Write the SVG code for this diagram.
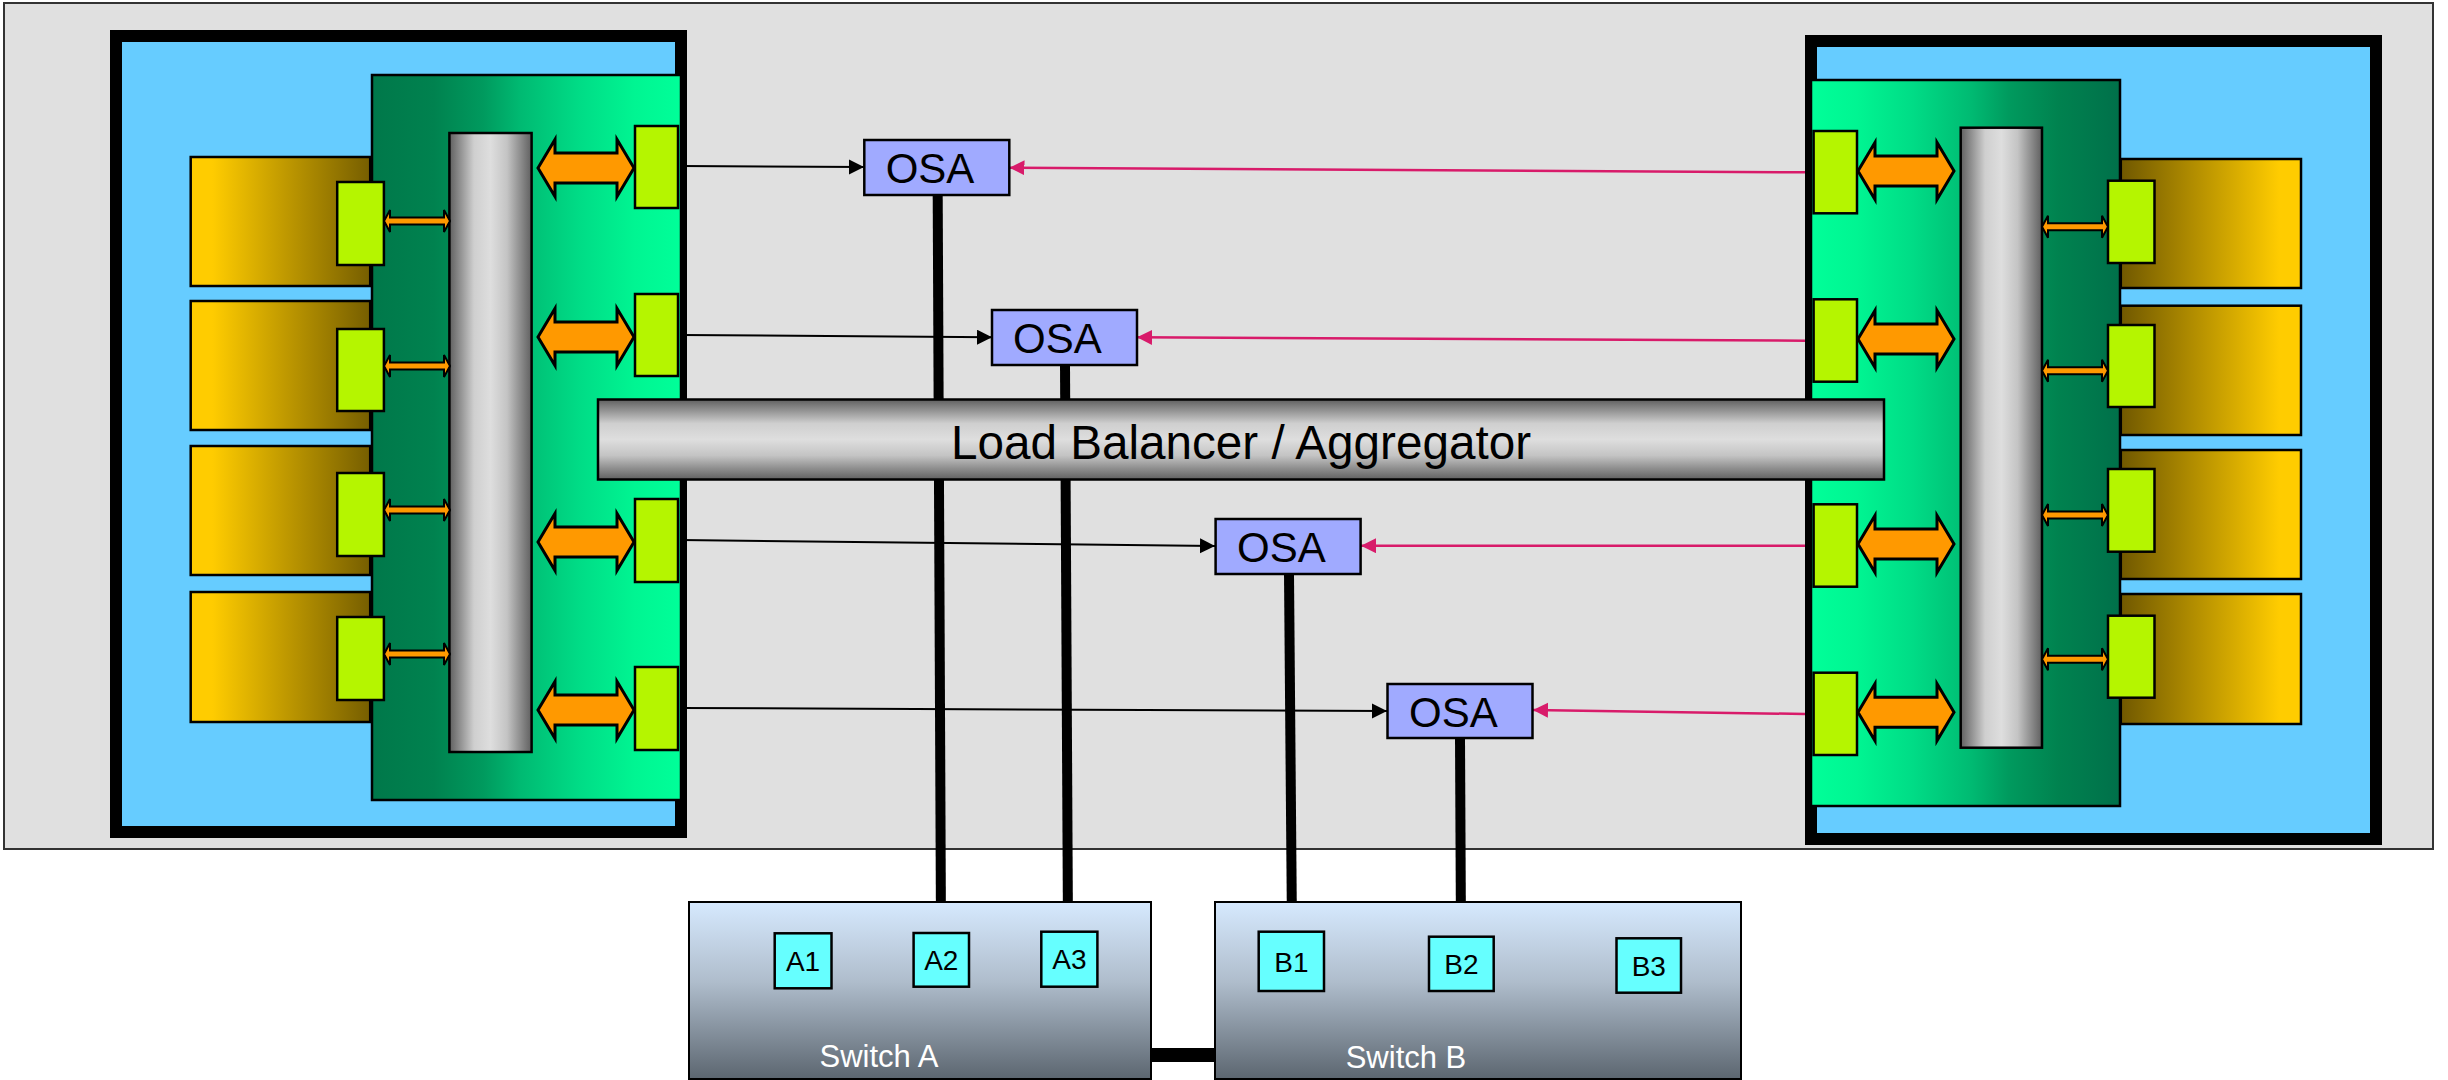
<svg xmlns="http://www.w3.org/2000/svg" width="2448" height="1080" viewBox="0 0 2448 1080">
<style>
.frame{fill:#66CCFF;stroke:#000;stroke-width:12}
.card{stroke:#000;stroke-width:2.5}
.conn{fill:#B5F500;stroke:#000;stroke-width:2.5}
.bar{fill:url(#gBarV);stroke:#000;stroke-width:2.5}
.big{fill:#FF9900;stroke:#000;stroke-width:3}
.small{fill:#FF9900;stroke:#000;stroke-width:2}
.osa{fill:#A0AAFF;stroke:#000;stroke-width:2.5}
.osat{font-family:"Liberation Sans",Arial,sans-serif;font-size:42px;fill:#000}
.port{fill:#66FFFF;stroke:#000;stroke-width:2.5}
.portt{font-family:"Liberation Sans",Arial,sans-serif;font-size:28px;fill:#000;text-anchor:middle}
.sw{fill:url(#gSwitch);stroke:#000;stroke-width:2}
.swt{font-family:"Liberation Sans",Arial,sans-serif;font-size:31px;fill:#fff;text-anchor:middle}
.thick{stroke:#000;stroke-width:10;fill:none}
.blk{stroke:#000;stroke-width:2;fill:none;marker-end:url(#mBlk)}
.pnk{stroke:#D81B6A;stroke-width:2.5;fill:none;marker-end:url(#mPnk)}
</style>
<defs>
<linearGradient id="gBoardL" x1="0" y1="0" x2="1" y2="0">
<stop offset="0" stop-color="#00784A"/>
<stop offset="0.2" stop-color="#00824F"/>
<stop offset="0.36" stop-color="#009A5E"/>
<stop offset="0.48" stop-color="#00BA72"/>
<stop offset="0.67" stop-color="#00DC86"/>
<stop offset="0.85" stop-color="#00F592"/>
<stop offset="1" stop-color="#00FF99"/>
</linearGradient>
<linearGradient id="gBoardR" x1="1" y1="0" x2="0" y2="0">
<stop offset="0" stop-color="#00704A"/>
<stop offset="0.2" stop-color="#00824F"/>
<stop offset="0.36" stop-color="#009A5E"/>
<stop offset="0.48" stop-color="#00BA72"/>
<stop offset="0.67" stop-color="#00DC86"/>
<stop offset="0.85" stop-color="#00F592"/>
<stop offset="1" stop-color="#00FF99"/>
</linearGradient>
<linearGradient id="gGoldL" x1="0" y1="0" x2="1" y2="0">
<stop offset="0" stop-color="#FFCC00"/>
<stop offset="0.12" stop-color="#FFCC00"/>
<stop offset="1" stop-color="#765E00"/>
</linearGradient>
<linearGradient id="gGoldR" x1="1" y1="0" x2="0" y2="0">
<stop offset="0" stop-color="#FFCC00"/>
<stop offset="0.12" stop-color="#FFCC00"/>
<stop offset="1" stop-color="#705800"/>
</linearGradient>
<linearGradient id="gBarV" x1="0" y1="0" x2="1" y2="0">
<stop offset="0" stop-color="#606060"/>
<stop offset="0.3" stop-color="#CFCFCF"/>
<stop offset="0.5" stop-color="#DEDEDE"/>
<stop offset="0.7" stop-color="#C4C4C4"/>
<stop offset="1" stop-color="#606060"/>
</linearGradient>
<linearGradient id="gBarH" x1="0" y1="0" x2="0" y2="1">
<stop offset="0" stop-color="#606060"/>
<stop offset="0.3" stop-color="#CFCFCF"/>
<stop offset="0.5" stop-color="#DEDEDE"/>
<stop offset="0.7" stop-color="#C4C4C4"/>
<stop offset="1" stop-color="#606060"/>
</linearGradient>
<linearGradient id="gSwitch" x1="0" y1="0" x2="0" y2="1">
<stop offset="0" stop-color="#D6E9FE"/>
<stop offset="0.45" stop-color="#AFBDCC"/>
<stop offset="1" stop-color="#5C6670"/>
</linearGradient>
<marker id="mBlk" markerUnits="userSpaceOnUse" markerWidth="16" markerHeight="16" refX="15" refY="7.5" orient="auto">
<path d="M0,0 L15,7.5 L0,15 Z" fill="#000"/>
</marker>
<marker id="mPnk" markerUnits="userSpaceOnUse" markerWidth="16" markerHeight="16" refX="15" refY="7.5" orient="auto">
<path d="M0,0 L15,7.5 L0,15 Z" fill="#D81B6A"/>
</marker>
<path id="sArrow" d="M0,0 L6,-11 L6,-3.5 L60,-3.5 L60,-11 L66,0 L60,11 L60,3.5 L6,3.5 L6,11 Z"/>
<path id="bArrow" d="M0,0 L17,-28.5 L17,-15 L79,-15 L79,-28.5 L96,0 L79,28.5 L79,15 L17,15 L17,28.5 Z"/>
</defs>

<rect id="panel" x="4" y="3" width="2429" height="846" fill="#E0E0E0" stroke="#333" stroke-width="2"/>

<g id="serverLeft">
<rect class="frame" x="116" y="36" width="565" height="796"/>
<g fill="url(#gGoldL)">
<rect class="card" x="190.7" y="157" width="179.5" height="129"/>
<rect class="card" x="190.7" y="301" width="179.5" height="129"/>
<rect class="card" x="190.7" y="446" width="179.5" height="129"/>
<rect class="card" x="190.7" y="592" width="179.5" height="130"/>
</g>
<rect x="372" y="75" width="309" height="725" fill="url(#gBoardL)" stroke="#000" stroke-width="2.5"/>
<rect class="bar" x="449.4" y="133" width="82.2" height="619"/>
<rect class="conn" x="337.2" y="182" width="46.7" height="83"/>
<rect class="conn" x="337.2" y="329" width="46.7" height="82"/>
<rect class="conn" x="337.2" y="473" width="46.7" height="83"/>
<rect class="conn" x="337.2" y="617" width="46.7" height="83"/>
<use href="#sArrow" class="small" x="384" y="221"/>
<use href="#sArrow" class="small" x="384" y="366"/>
<use href="#sArrow" class="small" x="384" y="510"/>
<use href="#sArrow" class="small" x="384" y="654"/>
<use href="#bArrow" class="big" x="538" y="168"/>
<use href="#bArrow" class="big" x="538" y="337"/>
<use href="#bArrow" class="big" x="538" y="542"/>
<use href="#bArrow" class="big" x="538" y="710"/>
<rect class="conn" x="635" y="126" width="43" height="82"/>
<rect class="conn" x="635" y="294" width="43" height="82"/>
<rect class="conn" x="635" y="499" width="43" height="83"/>
<rect class="conn" x="635" y="667" width="43" height="83"/>
</g>

<g id="serverRight">
<rect class="frame" x="1811" y="41" width="565" height="798"/>
<rect x="1811" y="80" width="309" height="726" fill="url(#gBoardR)" stroke="#000" stroke-width="2.5"/>
<g fill="url(#gGoldR)">
<rect class="card" x="2120.8" y="159" width="180.2" height="129"/>
<rect class="card" x="2120.8" y="305.7" width="180.2" height="129.3"/>
<rect class="card" x="2120.8" y="450" width="180.2" height="129"/>
<rect class="card" x="2120.8" y="594" width="180.2" height="130"/>
</g>
<rect class="bar" x="1960.7" y="127.7" width="81.3" height="620"/>
<rect class="conn" x="2108" y="180.7" width="46.5" height="82.3"/>
<rect class="conn" x="2108" y="325" width="46.5" height="82"/>
<rect class="conn" x="2108" y="469" width="46.5" height="82.7"/>
<rect class="conn" x="2108" y="615.7" width="46.5" height="82"/>
<use href="#sArrow" class="small" x="2042" y="226.7"/>
<use href="#sArrow" class="small" x="2042" y="370.7"/>
<use href="#sArrow" class="small" x="2042" y="515"/>
<use href="#sArrow" class="small" x="2042" y="659.3"/>
<use href="#bArrow" class="big" x="1858" y="171"/>
<use href="#bArrow" class="big" x="1858" y="339"/>
<use href="#bArrow" class="big" x="1858" y="544"/>
<use href="#bArrow" class="big" x="1858" y="712.3"/>
<rect class="conn" x="1813.6" y="131" width="43.4" height="82.3"/>
<rect class="conn" x="1813.6" y="299.3" width="43.4" height="82.4"/>
<rect class="conn" x="1813.6" y="504.3" width="43.4" height="82.4"/>
<rect class="conn" x="1813.6" y="672.7" width="43.4" height="82.3"/>
</g>

<g id="connectors">
<line class="thick" x1="937.7" y1="195" x2="941" y2="933"/>
<line class="thick" x1="1065" y1="365" x2="1068" y2="932"/>
<line class="thick" x1="1289" y1="574" x2="1292" y2="932"/>
<line class="thick" x1="1460" y1="738" x2="1461" y2="937"/>
<rect x="1151" y="1048" width="64" height="14" fill="#000"/>
<line class="blk" x1="681" y1="166" x2="864" y2="167"/>
<line class="blk" x1="681" y1="335" x2="992" y2="337.3"/>
<line class="blk" x1="681" y1="540" x2="1215" y2="546"/>
<line class="blk" x1="681" y1="708" x2="1387" y2="711"/>
<line class="pnk" x1="1805" y1="172.3" x2="1009.5" y2="167.7"/>
<line class="pnk" x1="1805" y1="340.7" x2="1137" y2="337.3"/>
<line class="pnk" x1="1805" y1="545.7" x2="1361" y2="545.7"/>
<line class="pnk" x1="1805" y1="714" x2="1533" y2="710"/>
</g>

<g id="loadBalancer">
<rect x="598" y="399.5" width="1286" height="80" fill="url(#gBarH)" stroke="#000" stroke-width="2.5"/>
<text x="951" y="459" font-family="Liberation Sans, Arial, sans-serif" font-size="48" textLength="580" lengthAdjust="spacingAndGlyphs" fill="#000">Load Balancer / Aggregator</text>
</g>

<g id="osa1"><rect class="osa" x="864.3" y="140" width="145" height="55"/><text class="osat" x="885.7" y="183.3">OSA</text></g>
<g id="osa2"><rect class="osa" x="992" y="310" width="145" height="55"/><text class="osat" x="1013" y="353.3">OSA</text></g>
<g id="osa3"><rect class="osa" x="1215.6" y="519" width="145" height="55"/><text class="osat" x="1237" y="562.3">OSA</text></g>
<g id="osa4"><rect class="osa" x="1387.5" y="684" width="145" height="54"/><text class="osat" x="1409" y="726.5">OSA</text></g>

<g id="switchA">
<rect class="sw" x="689" y="902" width="462" height="177"/>
<text class="swt" x="879" y="1067">Switch A</text>
<g id="portA1"><rect class="port" x="774.7" y="933.3" width="56.8" height="55"/><text class="portt" x="803" y="971">A1</text></g>
<g id="portA2"><rect class="port" x="913.6" y="933" width="55.4" height="53.7"/><text class="portt" x="941.3" y="970">A2</text></g>
<g id="portA3"><rect class="port" x="1041.3" y="931.7" width="56.1" height="55"/><text class="portt" x="1069.4" y="969">A3</text></g>
</g>

<g id="switchB">
<rect class="sw" x="1215" y="902" width="526" height="177"/>
<text class="swt" x="1406" y="1068">Switch B</text>
<g id="portB1"><rect class="port" x="1258.7" y="931.7" width="65.3" height="59.3"/><text class="portt" x="1291.4" y="971.5">B1</text></g>
<g id="portB2"><rect class="port" x="1429" y="936.7" width="64.7" height="54.3"/><text class="portt" x="1461.4" y="974">B2</text></g>
<g id="portB3"><rect class="port" x="1616.5" y="938.3" width="64.5" height="54.4"/><text class="portt" x="1648.8" y="975.5">B3</text></g>
</g>
</svg>
